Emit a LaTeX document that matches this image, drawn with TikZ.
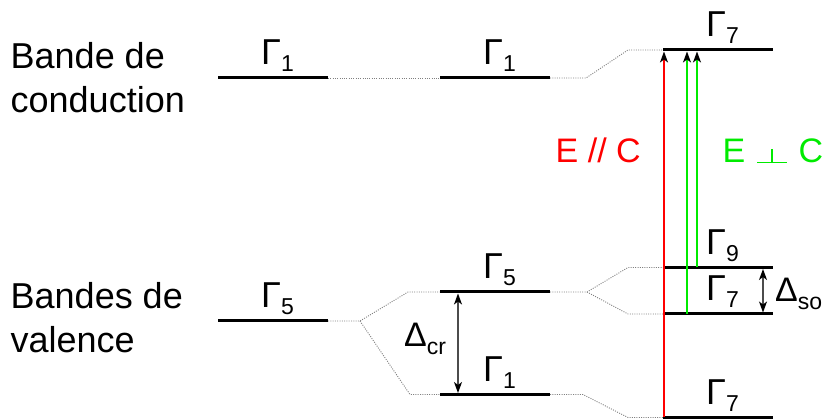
\documentclass[tikz,border=0pt]{standalone}
\usepackage{fontspec}
\usepackage{graphicx}
\setmainfont{Liberation Sans}
\usetikzlibrary{arrows.meta}
\definecolor{myred}{RGB}{255,0,0}
\definecolor{mygreen}{RGB}{0,235,0}
\newcommand{\glab}[1]{{\fontsize{36}{36}\selectfont Γ}\raisebox{-7pt}{\fontsize{23}{23}\selectfont #1}}
\newcommand{\dlab}[1]{{\fontsize{34}{34}\selectfont Δ}\raisebox{-8pt}{\fontsize{23}{23}\selectfont #1}}
\newcommand{\myperp}{\rule{14pt}{1.2pt}\rule{1.2pt}{14pt}\rule{14pt}{1.2pt}}
\begin{document}
\begin{tikzpicture}[x=1pt,y=-1pt,
  lvl/.style={line width=3pt},
  conn/.style={gray, line width=0.9pt, dash pattern=on 1pt off 1.3pt},
  lab/.style={anchor=base west, inner sep=0pt},
  bigtext/.style={anchor=base west, inner sep=0pt, font=\fontsize{36}{36}\selectfont},
  etext/.style={anchor=base west, inner sep=0pt, font=\fontsize{34}{34}\selectfont},
  trans/.style={line width=1.2pt, -{Stealth[black,length=11pt,width=8pt,inset=3pt]}},
  gap/.style={gray!60!black, line width=1.2pt, {Stealth[black,length=11pt,width=8pt,inset=3pt]}-{Stealth[black,length=11pt,width=8pt,inset=3pt]}}]
\useasboundingbox (0,0) rectangle (825,419);

% level coordinates
\coordinate (c1tL) at (218,78);  \coordinate (c1tR) at (328,78);
\coordinate (c1vL) at (218,321); \coordinate (c1vR) at (328,321);
\coordinate (c2tL) at (440,78);  \coordinate (c2tR) at (550,78);
\coordinate (c2aL) at (440,292); \coordinate (c2aR) at (550,292);
\coordinate (c2bL) at (440,394.5); \coordinate (c2bR) at (550,394.5);
\coordinate (c3tL) at (663,50);  \coordinate (c3tR) at (773,50);
\coordinate (c3aL) at (663,267.5); \coordinate (c3aR) at (773,267.5);
\coordinate (c3bL) at (663,314); \coordinate (c3bR) at (773,314);
\coordinate (c3cL) at (663,417.5); \coordinate (c3cR) at (773,417.5);

% dotted connectors
\draw[conn] (c1tR) -- (c2tL);
\draw[conn] (c2tR) -- ++(36,0) -- (628,50) -- (c3tL);
\draw[conn] (c1vR) -- ++(32,0) -- (408,292) -- (c2aL);
\draw[conn] (c1vR) ++(32,0) -- (410,394.5) -- (c2bL);
\draw[conn] (c2aR) -- ++(37,0) -- (628,267.5) -- (c3aL);
\draw[conn] (c2aR) ++(37,0) -- (628,314) -- (c3bL);
\draw[conn] (c2bR) -- ++(33,0) -- (628,417.5) -- (c3cL);

% levels
\foreach \n in {c1t,c1v,c2t,c2a,c2b,c3t,c3a,c3b,c3c}
  \draw[lvl] (\n L) -- (\n R);

% level labels
\node[lab] (g1) at (261,65) {\glab{1}};
\node[lab] (g2) at (483,65) {\glab{1}};
\node[lab] (g3) at (706,37) {\glab{7}};
\node[lab] (g4) at (261,308) {\glab{5}};
\node[lab] (g5) at (483,279) {\glab{5}};
\node[lab] (g6) at (483,381.5) {\glab{1}};
\node[lab] (g7) at (706,254.5) {\glab{9}};
\node[lab] (g8) at (706,301) {\glab{7}};
\node[lab] (g9) at (706,404.5) {\glab{7}};

% band names
\node[bigtext] (t1) at (10.5,69) {Bande de};
\node[bigtext] (t2) at (10.5,113) {conduction};
\node[bigtext] (t3) at (10.5,309) {Bandes de};
\node[bigtext] (t4) at (10.5,353) {valence};

% transitions
\coordinate (rA) at (664,417); \coordinate (rB) at (664,51.5);
\coordinate (gA) at (687,314); \coordinate (gB) at (687,51.5);
\coordinate (hA) at (697,267.5); \coordinate (hB) at (697,51.5);
\draw[trans, myred] (rA) -- (rB);
\draw[trans, mygreen] (gA) -- (gB);
\draw[trans, mygreen] (hA) -- (hB);

\node[etext, text=myred] (epar) at (555.5,163) {E // C};
\node[etext, text=mygreen] (eperp) at (722.5,163) {E\hspace{12pt}\myperp\hspace{12pt}C};

% splittings
\coordinate (dcA) at (458,293.5); \coordinate (dcB) at (458,393);
\draw[gap] (dcA) -- (dcB);
\node[lab] (dcr) at (404,347) {\dlab{cr}};
\coordinate (dsA) at (763,269); \coordinate (dsB) at (763,312.5);
\draw[gap] (dsA) -- (dsB);
\node[lab] (dso) at (775,302) {\dlab{so}};
\end{tikzpicture}
\end{document}
